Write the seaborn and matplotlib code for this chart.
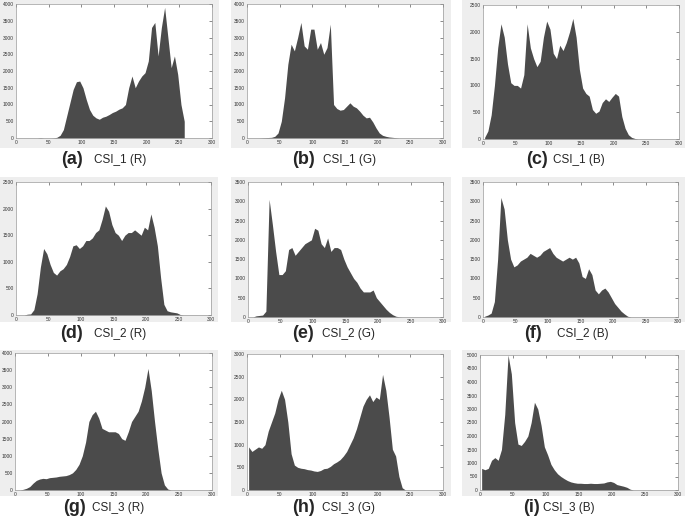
import numpy as np
import pandas as pd
import matplotlib
matplotlib.use("Agg")
import matplotlib.pyplot as plt
from matplotlib.patches import Rectangle
import seaborn as sns

# grey levels, one entry per 5-level bin (0, 5, ..., 255)
levels = np.arange(0, 256, 5)

csi1_r = [0, 0, 0, 0, 0, 0, 0, 10, 0, 0,
          0, 5, 20, 80, 250, 650, 1050, 1450, 1680, 1700,
          1500, 1150, 850, 680, 600, 560, 620, 650, 700, 760,
          800, 860, 900, 1000, 1500, 1850, 1500, 1700, 1850, 1950,
          2300, 3300, 3450, 2450, 3300, 3900, 3000, 2100, 2450, 1900,
          1000, 500]
csi1_g = [0, 0, 0, 0, 5, 10, 15, 20, 50, 150,
          500, 1200, 2200, 2800, 2600, 3000, 3450, 2750, 2650, 3250,
          3250, 2650, 2850, 2500, 2700, 3400, 1000, 880, 830, 850,
          950, 1050, 950, 900, 800, 680, 600, 620, 480, 300,
          150, 80, 50, 30, 20, 10, 0, 0, 0, 0,
          0, 0]
csi1_b = [30, 150, 450, 1000, 1700, 2150, 1900, 1400, 1050, 1000,
          1000, 950, 1200, 2150, 1700, 1500, 1350, 1450, 1900, 2200,
          2050, 1600, 1500, 1750, 1650, 1800, 2000, 2250, 1900, 1300,
          950, 850, 800, 550, 480, 520, 680, 750, 700, 780,
          850, 800, 420, 200, 80, 30, 10, 0, 0, 0,
          0, 0]
csi2_r = [0, 0, 0, 15, 20, 100, 400, 900, 1250, 1150,
          950, 800, 750, 830, 870, 950, 1100, 1300, 1320, 1250,
          1300, 1400, 1400, 1450, 1550, 1600, 1800, 2050, 1950, 1700,
          1550, 1500, 1400, 1500, 1550, 1550, 1600, 1550, 1500, 1650,
          1600, 1900, 1650, 1300, 700, 200, 80, 60, 50, 40,
          10, 0]
csi2_g = [0, 0, 30, 40, 50, 150, 3050, 2400, 1700, 1100,
          1100, 1200, 1750, 1800, 1600, 1700, 1800, 1900, 1950, 2000,
          2300, 2250, 1900, 1800, 2050, 1700, 1800, 1800, 1750, 1500,
          1300, 1150, 1000, 900, 750, 650, 650, 650, 700, 500,
          400, 300, 200, 120, 60, 20, 5, 0, 0, 0,
          0, 0]
csi2_b = [20, 50, 100, 400, 1500, 3100, 2800, 2000, 1500, 1300,
          1350, 1450, 1500, 1550, 1650, 1600, 1550, 1600, 1700, 1750,
          1800, 1650, 1550, 1500, 1450, 1500, 1550, 1500, 1550, 1400,
          1050, 1000, 1250, 1100, 700, 600, 700, 750, 650, 500,
          350, 250, 150, 80, 20, 0, 0, 0, 0, 0,
          0, 0]
csi3_r = [0, 0, 20, 50, 100, 200, 280, 320, 340, 330,
          360, 370, 380, 400, 410, 420, 450, 500, 600, 750,
          1000, 1400, 2000, 2200, 2300, 2100, 1800, 1750, 1700, 1700,
          1700, 1650, 1500, 1450, 1700, 2000, 2150, 2300, 2600, 3000,
          3550, 2900, 2000, 1200, 500, 150, 30, 0, 0, 0,
          0, 0]
csi3_g = [950, 850, 900, 950, 920, 1000, 1300, 1500, 1700, 2000,
          2200, 2000, 1500, 800, 550, 500, 480, 470, 450, 440,
          420, 410, 430, 470, 480, 520, 580, 620, 670, 750,
          850, 1000, 1150, 1350, 1600, 1850, 2000, 2100, 1950, 2050,
          2000, 2550, 2200, 1600, 900, 750, 300, 50, 0, 0,
          0, 0]
csi3_b = [800, 750, 800, 1100, 1200, 1100, 1500, 2800, 5000, 4300,
          2500, 1700, 1650, 1800, 2000, 2500, 3250, 3000, 2400, 1600,
          1300, 950, 750, 600, 500, 420, 350, 300, 270, 250,
          250, 240, 240, 250, 240, 240, 250, 260, 300, 320,
          280, 200, 170, 140, 100, 30, 0, 0, 0, 0,
          0, 0]

series = [csi1_r, csi1_g, csi1_b, csi2_r, csi2_g, csi2_b, csi3_r, csi3_g, csi3_b]
tags = ["(a)", "(b)", "(c)", "(d)", "(e)", "(f)", "(g)", "(h)", "(i)"]
names = ["CSI_1 (R)", "CSI_1 (G)", "CSI_1 (B)",
         "CSI_2 (R)", "CSI_2 (G)", "CSI_2 (B)",
         "CSI_3 (R)", "CSI_3 (G)", "CSI_3 (B)"]
ymax = [4000, 4000, 2500, 2500, 3500, 3500, 4000, 3000, 5000]

# layout in pixels: axes box (left, top, right, bottom), grey panel box, label positions
W, H = 685, 522
axes_px = [(16, 4, 212, 138), (247, 4, 443, 138), (483, 5, 679, 139),
           (16, 182, 211, 315), (248, 182, 443, 317), (483, 182, 678, 317),
           (15, 353, 212, 490), (247, 354, 443, 490), (480, 355, 678, 490)]
panel_px = [(0, 0, 219, 148), (231, 0, 451, 148), (462, 0, 685, 148),
            (0, 177, 218, 322), (231, 177, 451, 322), (462, 177, 685, 322),
            (0, 350, 218, 496), (231, 350, 451, 496), (462, 350, 685, 496)]
tag_x = [61, 292, 526, 60, 292, 524, 63, 292, 523]
name_x = [94, 323, 553, 94, 322, 557, 92, 322, 543]
label_y = [160, 160, 160, 334, 334, 334, 508, 508, 508]

sns.set_theme(style="white")
plt.rcParams["font.family"] = ["Liberation Sans", "DejaVu Sans"]

fig = plt.figure(figsize=(W / 100, H / 100), dpi=100)
fig.patch.set_facecolor("white")


def frac(box):
    l, t, r, b = box
    return [l / W, 1 - b / H, (r - l) / W, (b - t) / H]


for k in range(9):
    l, t, r, b = panel_px[k]
    fig.add_artist(Rectangle((l / W, 1 - b / H), (r - l) / W, (b - t) / H,
                             transform=fig.transFigure, facecolor="#eeeeee",
                             edgecolor="none", zorder=0))
    ax = fig.add_axes(frac(axes_px[k]))
    ax.set_facecolor("white")
    df = pd.DataFrame({"level": levels + 2.5, "count": series[k]})
    sns.histplot(data=df, x="level", weights="count", binwidth=5,
                 binrange=(0, 260), element="poly", fill=True,
                 color="#4b4b4b", alpha=1, linewidth=0, ax=ax)
    ax.set_xlim(0, 300)
    ax.set_ylim(0, ymax[k])
    ax.set_xticks(np.arange(0, 301, 50))
    ax.set_yticks(np.arange(0, ymax[k] + 1, 500))
    ax.set_xlabel("")
    ax.set_ylabel("")
    ax.tick_params(direction="in", length=2, width=0.4, top=True, right=True,
                   labelsize=3.5, pad=1.5, colors="#333333")
    for s in ax.spines.values():
        s.set_color("#999999")
        s.set_linewidth(0.5)
    fig.text(tag_x[k] / W, 1 - label_y[k] / H, tags[k], fontsize=13,
             fontweight="bold", ha="left", va="center")
    fig.text(name_x[k] / W, 1 - label_y[k] / H, names[k], fontsize=8.5,
             ha="left", va="center")

fig.savefig("out.png", dpi=100, facecolor="white")
